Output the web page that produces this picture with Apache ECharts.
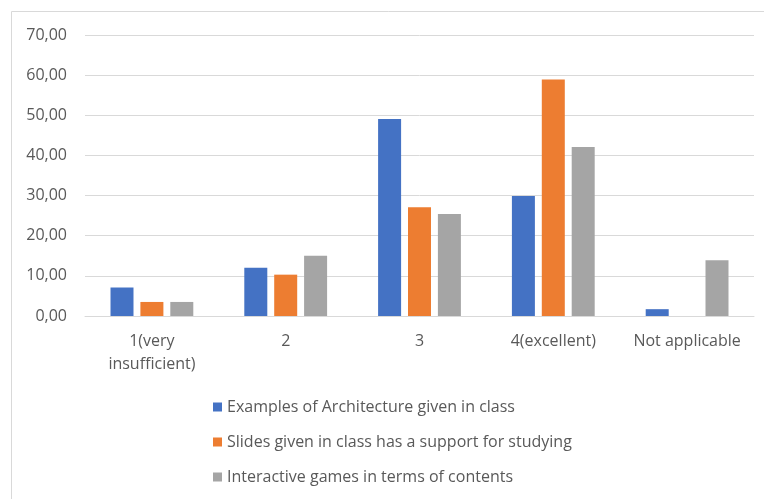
<!DOCTYPE html>
<html>
<head>
<meta charset="utf-8">
<script src="https://cdn.jsdelivr.net/npm/echarts@6/dist/echarts.min.js"></script>
<style>
  html, body { margin: 0; padding: 0; background: #fff; }
  #chart { width: 764px; height: 499px; }
</style>
</head>
<body>
<div id="chart"></div>
<script>
// categories and values
var categories = ['1(very\ninsufficient)', '2', '3', '4(excellent)', 'Not applicable'];
var seriesNames = [
    'Examples of Architecture given in class',
    'Slides given in class has a support for studying',
    'Interactive games in terms of contents'
];
var examples = [7.1, 12.0, 49.1, 29.9, 1.7];
var slides = [3.5, 10.3, 27.1, 58.9, 0];
var games = [3.5, 15.0, 25.4, 42.1, 13.9];
var colors = ['#4472C4', '#ED7D31', '#A5A5A5'];

var font = 'Open Sans';
var myChart = echarts.init(document.getElementById('chart'));

function bar(name, data, color) {
    return {
        name: name,
        type: 'bar',
        data: data,
        barWidth: 23,
        barGap: '30%',
        itemStyle: { color: color }
    };
}

var option = {
    animation: false,
    graphic: [{
        type: 'rect',
        shape: { x: 11.5, y: 11.5, width: 800, height: 600 },
        style: { fill: 'none', stroke: '#d9d9d9', lineWidth: 1 },
        silent: true
    }],
    grid: { left: 85, right: 10, top: 35, bottom: 183 },
    legend: {
        orient: 'vertical',
        left: 213,
        top: 399,
        padding: 0,
        itemWidth: 9,
        itemHeight: 9,
        itemGap: 19,
        icon: 'rect',
        textStyle: { fontFamily: font, fontSize: 16, color: '#595959' },
        data: seriesNames
    },
    xAxis: {
        type: 'category',
        data: categories,
        axisLine: { lineStyle: { color: '#d9d9d9', width: 1 } },
        axisTick: { show: false },
        axisLabel: {
            interval: 0,
            margin: 14,
            fontFamily: font,
            fontSize: 16,
            color: '#595959',
            lineHeight: 23
        }
    },
    yAxis: {
        type: 'value',
        min: 0,
        max: 70,
        interval: 10,
        axisLine: { show: false },
        axisTick: { show: false },
        splitLine: { lineStyle: { color: '#d9d9d9', width: 1 } },
        axisLabel: {
            margin: 18,
            fontFamily: font,
            fontSize: 16,
            color: '#595959',
            formatter: function (v) { return v.toFixed(2).replace('.', ','); }
        }
    },
    series: [
        bar(seriesNames[0], examples, colors[0]),
        bar(seriesNames[1], slides, colors[1]),
        bar(seriesNames[2], games, colors[2])
    ]
};

myChart.setOption(option);
</script>
</body>
</html>
